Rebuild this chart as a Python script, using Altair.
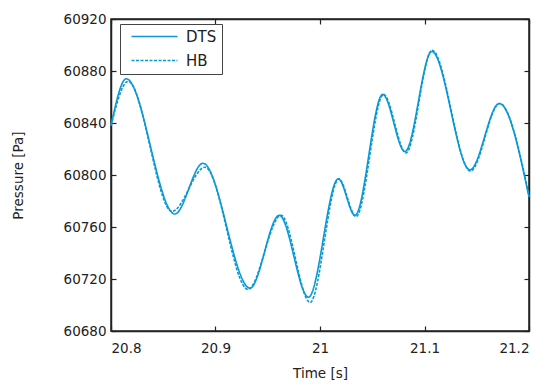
import altair as alt
import pandas as pd

# DTS curve (time s, pressure Pa)
dts_t = [20.800, 20.8146, 20.861, 20.888, 20.933, 20.961, 20.989, 21.0175, 21.0335,
         21.060, 21.0813, 21.107, 21.1435, 21.1716, 21.200]
dts_p = [60838, 60874, 60770, 60809, 60713, 60769, 60706, 60797, 60769,
         60862, 60818, 60895, 60804, 60855, 60783]

# HB curve
hb_t = [20.800, 20.8163, 20.8584, 20.890, 20.931, 20.9627, 20.9905, 21.018, 21.0345,
        21.0608, 21.0823, 21.1072, 21.144, 21.1718, 21.200]
hb_p = [60838, 60872, 60772, 60806, 60712, 60769, 60702, 60797, 60768,
        60862, 60817, 60896, 60803, 60855, 60784]

x_ticks = [20.8, 20.9, 21.0, 21.1, 21.2]
y_ticks = [60680, 60720, 60760, 60800, 60840, 60880, 60920]
series = ["DTS", "HB"]

BLUE = "#0a98d4"
FONT = "DejaVu Sans"

df = pd.concat([
    pd.DataFrame({"t": dts_t, "p": dts_p, "series": "DTS"}),
    pd.DataFrame({"t": hb_t, "p": hb_p, "series": "HB"}),
])

xscale = alt.Scale(domain=[20.8, 21.2], nice=False, zero=False)
yscale = alt.Scale(domain=[60680, 60920], nice=False, zero=False)

tick_in = {"expr": "-5"}

lines = alt.Chart(df).mark_line(strokeWidth=1.6, interpolate="monotone").encode(
    x=alt.X("t:Q", scale=xscale,
            axis=alt.Axis(values=x_ticks, format="~g", title="Time [s]", orient="bottom",
                          tickSize=tick_in, labelPadding=15, titlePadding=12, grid=False)),
    y=alt.Y("p:Q", scale=yscale,
            axis=alt.Axis(values=y_ticks, format="d", title="Pressure [Pa]", orient="left",
                          tickSize=tick_in, labelPadding=10, titlePadding=38, grid=False)),
    color=alt.Color("series:N", scale=alt.Scale(domain=series, range=[BLUE, BLUE]),
                    legend=alt.Legend(title=None)),
    strokeDash=alt.StrokeDash("series:N",
                              scale=alt.Scale(domain=series, range=[[1, 0], [3, 1.5]]),
                              legend=alt.Legend(title=None)),
    detail="series:N",
)

frame = alt.Chart(df).mark_line(opacity=0).encode(
    x=alt.X("t:Q", scale=xscale,
            axis=alt.Axis(values=x_ticks, orient="top", labels=False, title=None,
                          tickSize=tick_in, grid=False)),
    y=alt.Y("p:Q", scale=yscale,
            axis=alt.Axis(values=y_ticks, orient="right", labels=False, title=None,
                          tickSize=tick_in, grid=False)),
)

chart = alt.layer(lines, frame).resolve_axis(
    x="independent", y="independent"
).properties(
    width=418, height=312,
    autosize=alt.AutoSizeParams(type="none"),
    padding={"left": 103, "top": 11, "right": 13, "bottom": 54},
).configure_view(
    stroke="#222222", strokeWidth=1.5
).configure_axis(
    labelFont=FONT, titleFont=FONT, labelFontSize=13.5, titleFontSize=13.5,
    labelColor="#222222", titleColor="#222222", titleFontWeight="normal",
    domainColor="#222222", tickColor="#222222", domainWidth=1.5, tickWidth=1.2,
).configure_legend(
    orient="none", legendX=9, legendY=5,
    symbolType="M-0.2,0H9", symbolSize=100, symbolStrokeWidth=1.6,
    labelFont=FONT, labelFontSize=15, labelColor="#222222", labelOffset=46,
    padding=5, rowPadding=8, strokeColor="#444444", fillColor="white",
    cornerRadius=0,
)

chart.save("out.html", embed_options={"renderer": "svg", "actions": False})
